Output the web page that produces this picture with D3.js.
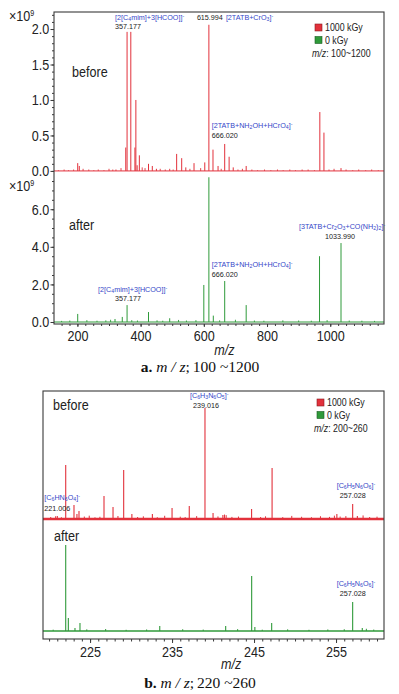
<!DOCTYPE html>
<html><head><meta charset="utf-8">
<script src="https://cdn.jsdelivr.net/npm/d3@7"></script>
<style>
body{margin:0;background:#fff;}
svg{display:block;}
</style></head><body>
<svg id="c" width="399" height="694"></svg>
<script>
// ================= DATA =================
// Panel a: m/z 100~1200, intensities in units of 10^9
const aTicksTop = [0.0, 0.5, 1.0, 1.5, 2.0];
const aTicksBottom = [0.0, 2.0, 4.0, 6.0];
const aTicksX = [200, 400, 600, 800, 1000];

const beforeA_mz  = [201, 206, 322, 353, 357.177, 369, 382, 385, 389, 396, 425, 437, 450, 514, 530, 543, 569, 603, 615.994, 629, 645, 666.020, 680, 693, 734, 967, 980, 1034];
const beforeA_int = [0.11, 0.07, 0.02, 0.33, 1.96, 1.96, 0.33, 1.00, 0.08, 0.22, 0.10, 0.07, 0.03, 0.24, 0.18, 0.05, 0.11, 0.12, 2.06, 0.30, 0.07, 0.38, 0.20, 0.05, 0.07, 0.83, 0.54, 0.04];
const beforeA_noise_mz  = [140, 158, 172, 188, 218, 236, 252, 266, 284, 300, 312, 338, 405, 414, 462, 478, 492, 503, 556, 590, 655, 708, 722, 752, 770, 792, 812, 833, 851, 872, 890, 911, 930, 950, 996, 1012, 1050, 1071, 1090, 1112, 1131, 1152];
const beforeA_noise_int = [0.01, 0.02, 0.01, 0.02, 0.03, 0.02, 0.01, 0.02, 0.01, 0.03, 0.02, 0.04, 0.05, 0.04, 0.03, 0.02, 0.03, 0.02, 0.03, 0.04, 0.03, 0.02, 0.03, 0.02, 0.01, 0.02, 0.01, 0.02, 0.01, 0.02, 0.01, 0.02, 0.02, 0.01, 0.02, 0.03, 0.02, 0.01, 0.02, 0.01, 0.02, 0.01];

const afterA_mz  = [201, 319, 342, 357.177, 425, 492, 600, 615.994, 630, 666.020, 734, 966, 1033.990];
const afterA_int = [0.43, 0.16, 0.27, 0.90, 0.53, 0.20, 1.97, 7.70, 0.34, 2.18, 0.90, 3.50, 4.20];
const afterA_noise_mz  = [150, 176, 230, 262, 290, 305, 372, 390, 452, 470, 520, 545, 575, 650, 700, 760, 790, 850, 900, 940, 990, 1060, 1100, 1140];
const afterA_noise_int = [0.06, 0.08, 0.10, 0.07, 0.09, 0.12, 0.10, 0.08, 0.09, 0.07, 0.11, 0.08, 0.10, 0.09, 0.12, 0.08, 0.07, 0.09, 0.08, 0.07, 0.10, 0.08, 0.07, 0.06];

// Panel b: m/z 200~260, relative intensity (%)
const bTicksX = [225, 235, 245, 255];
const beforeB_mz  = [221.006, 222.03, 223.04, 223.4, 223.65, 226.7, 227.8, 229.1, 230.1, 232.6, 235.0, 237.1, 239.016, 240.0, 241.2, 244.7, 247.2, 255.1, 257.028, 257.6];
const beforeB_int = [2.7, 48.6, 12.6, 4.5, 7.2, 20.7, 10.8, 44.1, 4.5, 4.5, 9.9, 11.7, 100, 5.4, 3.6, 9.0, 45.9, 4.5, 13.5, 2.7];
const beforeB_noise_mz  = [220.2, 220.8, 221.5, 224.3, 224.9, 225.6, 226.2, 228.4, 230.8, 231.5, 233.2, 234.1, 236.0, 236.6, 238.0, 240.6, 241.4, 241.6, 242.3, 243.1, 245.8, 246.4, 248.5, 249.6, 250.8, 252.0, 253.1, 254.2, 254.8, 255.5, 256.2, 258.3, 259.1, 260.0];
const beforeB_noise_int = [1.8, 2.5, 1.6, 2.2, 3.0, 1.5, 2.0, 2.7, 1.8, 2.4, 1.6, 2.9, 2.1, 1.7, 2.6, 2.3, 4.0, 3.5, 1.9, 2.2, 1.8, 2.4, 1.7, 2.8, 2.0, 1.6, 2.5, 1.9, 3.0, 2.2, 2.6, 3.2, 1.8, 2.1];

const afterB_mz  = [222.03, 222.35, 223.16, 223.77, 233.5, 241.54, 244.71, 245.1, 247.15, 257.028, 258.2];
const afterB_int = [77.5, 11.7, 2.7, 7.2, 4.5, 4.5, 49.5, 3.6, 7.2, 26.1, 2.7];
const afterB_noise_mz  = [220.5, 224.6, 226.9, 229.4, 231.9, 236.3, 238.8, 243.0, 246.0, 249.1, 251.7, 254.0, 256.0, 258.7, 259.6];
const afterB_noise_int = [1.2, 1.5, 1.8, 1.1, 1.4, 1.6, 1.3, 1.7, 1.2, 1.5, 1.1, 1.4, 1.6, 2.0, 1.3];

// annotations
const annA_top = [
  {mz: 357.177, formula: "[2[C_{4}mim]+3[HCOO]]^{-}", label: "357.177"},
  {mz: 615.994, formula: "[2TATB+CrO_{3}]^{-}", label: "615.994"},
  {mz: 666.020, formula: "[2TATB+NH_{2}OH+HCrO_{4}]^{-}", label: "666.020"}
];
const annA_bottom = [
  {mz: 357.177, formula: "[2[C_{4}mim]+3[HCOO]]^{-}", label: "357.177"},
  {mz: 666.020, formula: "[2TATB+NH_{2}OH+HCrO_{4}]^{-}", label: "666.020"},
  {mz: 1033.990, formula: "[3TATB+Cr_{2}O_{3}+CO(NH_{2})_{2}]^{-}", label: "1033.990"}
];
const annB_top = [
  {mz: 221.006, formula: "[C_{6}HN_{6}O_{4}]^{-}", label: "221.006"},
  {mz: 239.016, formula: "[C_{6}H_{3}N_{6}O_{5}]^{-}", label: "239.016"},
  {mz: 257.028, formula: "[C_{6}H_{5}N_{6}O_{6}]^{-}", label: "257.028"}
];
const annB_bottom = [
  {mz: 257.028, formula: "[C_{6}H_{5}N_{6}O_{6}]^{-}", label: "257.028"}
];
const legendLabels = ["1000 kGy", "0 kGy"];

// ================= STYLE =================
const RED = "#e2313b", GREEN = "#2f9a3a", BLUE = "#3446c8", FRAME = "#3a3a3a";
const SANS = "'Liberation Sans',Arial,sans-serif";
const SERIF = "'Liberation Serif','DejaVu Serif',serif";
const NARROW = 0.84;

const svg = d3.select("#c");

function zip(a, b) { return a.map((v, i) => ({mz: v, v: b[i]})); }

function ntext(g, x, y, size, str, opts = {}) {
  const t = g.append("text").attr("transform", `translate(${x},${y}) scale(${NARROW},1)`)
    .attr("font-family", SANS).attr("font-size", size).attr("fill", "#222")
    .attr("text-anchor", opts.anchor || "start");
  if (opts.italic) t.attr("font-style", "italic");
  if (str !== null) t.text(str);
  return t;
}

function rich(g, x, y, str, opts) {
  const t = g.append("text").attr("x", x).attr("y", y)
    .attr("font-family", SANS).attr("font-size", opts.size)
    .attr("fill", opts.color).attr("text-anchor", opts.anchor || "start");
  const re = /(_\{[^}]*\}|\^\{[^}]*\})/g;
  str.split(re).filter(s => s.length).forEach(s => {
    if (s.startsWith("_{")) {
      t.append("tspan").attr("font-size", opts.size * 0.72).attr("baseline-shift", "-25%").text(s.slice(2, -1));
    } else if (s.startsWith("^{")) {
      t.append("tspan").attr("font-size", opts.size * 0.72).attr("baseline-shift", "45%").text(s.slice(2, -1));
    } else {
      t.append("tspan").text(s);
    }
  });
  return t;
}

function drawSpectrum(g, x, y, peaks, noise, color, w, baseW) {
  const [x0, x1] = x.domain();
  const s = g.append("g");
  s.append("line").attr("x1", x(x0)).attr("x2", x(x1)).attr("y1", y(0)).attr("y2", y(0))
    .attr("stroke", color).attr("stroke-width", baseW);
  s.selectAll(null).data(noise).join("line")
    .attr("x1", d => x(d.mz)).attr("x2", d => x(d.mz)).attr("y1", y(0)).attr("y2", d => y(d.v))
    .attr("stroke", color).attr("stroke-width", w * 0.9);
  s.selectAll(null).data(peaks).join("line")
    .attr("x1", d => x(d.mz)).attr("x2", d => x(d.mz)).attr("y1", y(0)).attr("y2", d => y(d.v))
    .attr("stroke", color).attr("stroke-width", w);
}

function legend(g, lx, ly, rangeText) {
  const colors = [RED, GREEN];
  legendLabels.forEach((l, i) => {
    g.append("rect").attr("x", lx).attr("y", ly + i * 12.5 - 7).attr("width", 7).attr("height", 7)
      .attr("fill", colors[i]).attr("stroke", i === 0 ? "#8a1a20" : "#1a5a22").attr("stroke-width", 0.6);
    ntext(g, lx + 10, ly + i * 12.5, 10.5, l);
  });
  const t = ntext(g, lx - 3, ly + 25.5, 10.5, null);
  t.append("tspan").attr("font-style", "italic").text("m/z");
  t.append("tspan").text(": " + rangeText);
}

function times9(g, x, y) {
  const t = ntext(g, x, y, 15, null);
  t.append("tspan").text("×10");
  t.append("tspan").attr("font-size", 8.5).attr("baseline-shift", "60%").text("9");
}

function styleAxis(sel, fs) {
  sel.select(".domain").remove();
  sel.selectAll("line").attr("stroke", FRAME);
  sel.selectAll("text").attr("font-family", SANS).attr("font-size", fs).attr("fill", "#222")
    .attr("transform", `scale(${NARROW},1)`);
}

// ================= PANEL A =================
const gA = svg.append("g");
const xA = d3.scaleLinear().domain([126, 1170]).range([54, 384]);
const yA1 = d3.scaleLinear().domain([-0.015, 2.24]).range([172, 12]);
const yA2 = d3.scaleLinear().domain([-0.106, 7.98]).range([324, 172]);

drawSpectrum(gA, xA, yA1, zip(beforeA_mz, beforeA_int), zip(beforeA_noise_mz, beforeA_noise_int), RED, 1, 1);
drawSpectrum(gA, xA, yA2, zip(afterA_mz, afterA_int), zip(afterA_noise_mz, afterA_noise_int), GREEN, 1, 1);

gA.append("rect").attr("x", 54).attr("y", 12).attr("width", 330).attr("height", 312)
  .attr("fill", "none").attr("stroke", FRAME).attr("stroke-width", 1.1);

gA.append("g").attr("transform", "translate(54,0)")
  .call(d3.axisLeft(yA1).tickValues(d3.range(0, 2.21, 0.1)).tickSize(2).tickFormat(""))
  .call(s => styleAxis(s, 15));
gA.append("g").attr("transform", "translate(54,0)")
  .call(d3.axisLeft(yA1).tickValues(aTicksTop).tickSize(3.5).tickPadding(2).tickFormat(d3.format(".1f")))
  .call(s => styleAxis(s, 15));
gA.append("g").attr("transform", "translate(54,0)")
  .call(d3.axisLeft(yA2).tickValues(d3.range(0, 7.9, 0.5)).tickSize(2).tickFormat(""))
  .call(s => styleAxis(s, 15));
gA.append("g").attr("transform", "translate(54,0)")
  .call(d3.axisLeft(yA2).tickValues(aTicksBottom).tickSize(3.5).tickPadding(2).tickFormat(d3.format(".1f")))
  .call(s => styleAxis(s, 15));
gA.append("g").attr("transform", "translate(0,324)")
  .call(d3.axisBottom(xA).tickValues(d3.range(150, 1170, 25)).tickSize(2).tickFormat(""))
  .call(s => styleAxis(s, 15));
gA.append("g").attr("transform", "translate(0,324)")
  .call(d3.axisBottom(xA).tickValues(aTicksX).tickSize(3).tickPadding(3).tickFormat(d3.format("d")))
  .call(s => styleAxis(s, 15));
ntext(gA, xA(665), 355, 15, "m/z", {anchor: "middle", italic: true});

times9(gA, 9, 21);
times9(gA, 9, 191);

ntext(gA, 72, 77, 15, "before");
ntext(gA, 69, 230, 15, "after");

legend(gA, 315, 31, "100~1200");

const AF = 7.2;
{
  const a = annA_top;
  rich(gA, xA(a[0].mz) - 12, 20, a[0].formula, {size: AF, color: BLUE});
  rich(gA, xA(a[0].mz) - 12, 29, a[0].label, {size: AF, color: "#222"});
  rich(gA, xA(a[1].mz) - 12, 20, a[1].label, {size: AF, color: "#222"});
  rich(gA, xA(a[1].mz) + 17, 20, a[1].formula, {size: AF, color: BLUE});
  rich(gA, xA(a[2].mz) - 13, 128, a[2].formula, {size: AF, color: BLUE});
  rich(gA, xA(a[2].mz) - 13, 138, a[2].label, {size: AF, color: "#222"});
  const b = annA_bottom;
  rich(gA, xA(b[0].mz) - 29, 292, b[0].formula, {size: AF, color: BLUE});
  rich(gA, xA(b[0].mz) - 12, 301, b[0].label, {size: AF, color: "#222"});
  rich(gA, xA(b[1].mz) - 13, 267, b[1].formula, {size: AF, color: BLUE});
  rich(gA, xA(b[1].mz) - 13, 277, b[1].label, {size: AF, color: "#222"});
  rich(gA, xA(b[2].mz) - 42, 229, b[2].formula, {size: AF, color: BLUE});
  rich(gA, xA(b[2].mz) - 16, 239, b[2].label, {size: AF, color: "#222"});
}

function caption(g, cx, y, letter, rng) {
  const t = g.append("text").attr("x", cx).attr("y", y).attr("text-anchor", "middle")
    .attr("font-family", SERIF).attr("font-size", 15.5).attr("fill", "#111");
  t.append("tspan").attr("font-weight", "bold").text(letter + ".  ");
  t.append("tspan").attr("font-style", "italic").text("m / z");
  t.append("tspan").text(";");
  t.append("tspan").attr("dx", 3).text(rng);
}
caption(gA, 200, 372, "a", "100 ~1200");

// ================= PANEL B =================
const gB = svg.append("g");
const xB = d3.scaleLinear().domain([219.26, 260.85]).range([43, 384]);
const yB1 = d3.scaleLinear().domain([-0.9, 115.3]).range([520, 391]);
const yB2 = d3.scaleLinear().domain([-7.2, 100]).range([639, 520]);

drawSpectrum(gB, xB, yB1, zip(beforeB_mz, beforeB_int), zip(beforeB_noise_mz, beforeB_noise_int), RED, 1.1, 2.5);
drawSpectrum(gB, xB, yB2, zip(afterB_mz, afterB_int), zip(afterB_noise_mz, afterB_noise_int), GREEN, 1.1, 1.6);

gB.append("rect").attr("x", 43).attr("y", 391).attr("width", 341).attr("height", 248)
  .attr("fill", "none").attr("stroke", FRAME).attr("stroke-width", 1.1);

gB.append("g").attr("transform", "translate(0,639)")
  .call(d3.axisBottom(xB).tickValues(d3.range(220, 261, 1)).tickSize(2.5).tickFormat(""))
  .call(s => styleAxis(s, 15));
gB.append("g").attr("transform", "translate(0,639)")
  .call(d3.axisBottom(xB).tickValues(bTicksX).tickSize(4).tickPadding(3))
  .call(s => styleAxis(s, 15));
ntext(gB, xB(242.2), 669, 15, "m/z", {anchor: "middle", italic: true});

ntext(gB, 53, 410, 15, "before");
ntext(gB, 54, 541, 15, "after");

legend(gB, 317, 406, "200~260");

{
  const a = annB_top;
  rich(gB, xB(a[0].mz) - 13, 500, a[0].formula, {size: AF, color: BLUE});
  rich(gB, xB(a[0].mz) - 13, 511, a[0].label, {size: AF, color: "#222"});
  rich(gB, xB(a[1].mz) - 15, 398, a[1].formula, {size: AF, color: BLUE});
  rich(gB, xB(a[1].mz) - 12, 408, a[1].label, {size: AF, color: "#222"});
  rich(gB, xB(a[2].mz) - 16, 488, a[2].formula, {size: AF, color: BLUE});
  rich(gB, xB(a[2].mz) - 13, 498, a[2].label, {size: AF, color: "#222"});
  const b = annB_bottom;
  rich(gB, xB(b[0].mz) - 16, 586, b[0].formula, {size: AF, color: BLUE});
  rich(gB, xB(b[0].mz) - 13, 596, b[0].label, {size: AF, color: "#222"});
}
caption(gB, 200, 688, "b", "220 ~260");
</script>
</body></html>
